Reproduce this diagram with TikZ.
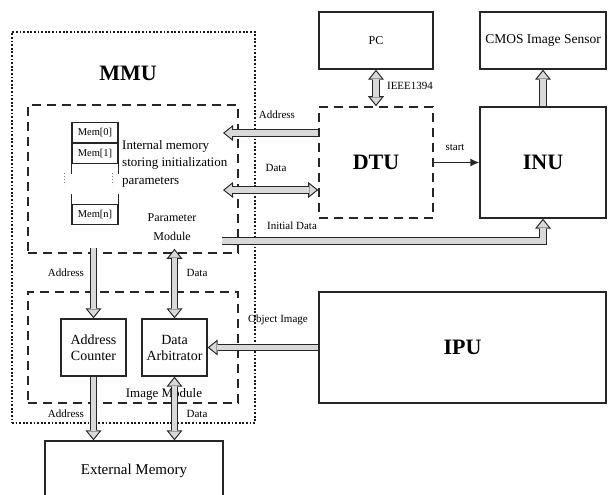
\documentclass[tikz,border=0pt]{standalone}
\usepackage{fontspec}
\setmainfont{Liberation Serif}
\usetikzlibrary{arrows.meta,calc}

\begin{document}
\begin{tikzpicture}[x=1pt, y=-1pt, line join=miter,
	every node/.style={font=\fontsize{14}{16}\selectfont, inner sep=0pt},
	blk/.style={draw=black!85, line width=1.3pt, align=center},
	unit/.style={draw=black!85, line width=1.6pt, dash pattern=on 9pt off 6pt},
	mmubox/.style={draw=black!90, line width=1.8pt, dash pattern=on 1.8pt off 1.8pt},
	memc/.style={draw=black!85, line width=1.2pt, minimum width=46pt, minimum height=20pt, font=\fontsize{10.5}{12}\selectfont},
	lbl/.style={font=\fontsize{11}{13}\selectfont},
	ttl/.style={font=\fontsize{22}{26}\selectfont\bfseries},
	otip/.tip={Triangle[length=10pt, width=16pt, line width=0pt]},
	itip/.tip={Triangle[length=7.1pt, width=11.4pt, line width=0pt]},
	bus/.style={draw=black!85, line width=7.6pt, -otip,
		postaction={draw=gray!30, line width=5.4pt, -itip, shorten >=1.8pt}},
	dbus/.style={draw=black!85, line width=7.6pt, otip-otip,
		postaction={draw=gray!30, line width=5.4pt, itip-itip, shorten >=1.8pt, shorten <=1.8pt}}]
	\useasboundingbox (0,0) rectangle (608,495);
	% MMU and its two modules
	\node[mmubox, minimum width=243pt, minimum height=391pt] (mmu) at (133.5,227.5) {};
	\node[ttl] (mmut) at (128,73) {MMU};
	\node[unit, minimum width=210pt, minimum height=148pt] (param) at (133,179) {};
	\node[unit, minimum width=210pt, minimum height=111pt] (imgm) at (133,347.5) {};
	% internal memory
	\node[memc] (mem0) at (95,132.5) {Mem[0]};
	\node[memc, anchor=north] (mem1) at (mem0.south) {Mem[1]};
	\node[memc] (memn) at (95,214.5) {Mem[n]};
	\draw[black!85, line width=1.2pt] (mem1.south west) -- ++(0,10);
	\draw[black!85, line width=1.2pt] (mem1.south east) -- ++(0,10);
	\draw[black!85, line width=1.2pt] (memn.north west) -- ++(0,-10);
	\draw[black!85, line width=1.2pt] (memn.north east) -- ++(0,-10);
	\draw[black!50, line width=0.9pt, dash pattern=on 1.2pt off 1.8pt] (64,173) -- (64,185);
	\draw[black!50, line width=0.9pt, dash pattern=on 1.2pt off 1.8pt] (112,173) -- (112,185);
	\node[anchor=north west, align=left, font=\fontsize{13}{17.5}\selectfont] (imtxt) at (122,140) {Internal memory\\storing initialization\\parameters};
	\node[align=center, font=\fontsize{12}{19}\selectfont] (pmt) at (172,227) {Parameter\\Module};
	% image module
	\node[blk, minimum width=65pt, minimum height=57pt] (addr) at (93.5,347.5) {Address\\Counter};
	\node[blk, minimum width=65pt, minimum height=57pt] (arb) at (174.5,347.5) {Data\\Arbitrator};
	\node[font=\fontsize{13}{15}\selectfont] (imt) at (164,394) {Image Module};
	\node[blk, minimum width=178pt, minimum height=59pt, font=\fontsize{15}{17}\selectfont] (ext) at (134,470.5) {External Memory};
	% right side units
	\node[blk, minimum width=114pt, minimum height=57pt, font=\fontsize{12}{14}\selectfont] (pc) at (376,40.5) {PC};
	\node[blk, minimum width=126pt, minimum height=57pt, font=\fontsize{13.5}{16}\selectfont] (cmos) at (543,40.5) {CMOS Image Sensor};
	\node[unit, minimum width=114pt, minimum height=111pt, ttl] (dtu) at (376,162.5) {DTU};
	\node[blk, minimum width=126pt, minimum height=111pt, ttl] (inu) at (543,162.5) {INU};
	\node[blk, minimum width=287pt, minimum height=111pt, ttl] (ipu) at (462.5,347.5) {IPU};
	% connectors
	\coordinate (pa) at (223,133);
	\coordinate (pd) at (223,190);
	\coordinate (pi) at (222,241);
	\draw[bus] (dtu.west |- pa) -- (pa);
	\draw[dbus] (pd) -- (dtu.west |- pd);
	\draw[dbus] (pc.south) -- (dtu.north);
	\draw[bus] (inu.north) -- (cmos.south);
	\draw[black!85, line width=1.3pt, -{Latex[length=9pt, width=8pt]}] (dtu.east) -- (inu.west);
	\draw[bus] (pi) -| (inu.south);
	\draw[bus] ($(param.south -| addr.north)+(0,-6)$) -- (addr.north);
	\draw[dbus] ($(param.south -| arb.north)+(0,-5)$) -- (arb.north);
	\draw[bus] (addr.south) -- (ext.north -| addr.south);
	\draw[dbus] (arb.south) -- (ext.north -| arb.south);
	\draw[bus] (ipu.west |- arb.east) -- (arb.east);
	% labels
	\node[lbl] (la1) at (277,115) {Address};
	\node[lbl] (ld1) at (276,168) {Data};
	\node[lbl] (lie) at (410,86) {IEEE1394};
	\node[lbl] (lst) at (455,147) {start};
	\node[lbl] (lini) at (292,226) {Initial Data};
	\node[lbl] (lobj) at (278,320) {Object Image};
	\node[lbl] (la2) at (66,273) {Address};
	\node[lbl] (ld2) at (197,273) {Data};
	\node[lbl] (la3) at (66,414) {Address};
	\node[lbl] (ld3) at (197,414) {Data};
\end{tikzpicture}
\end{document}
